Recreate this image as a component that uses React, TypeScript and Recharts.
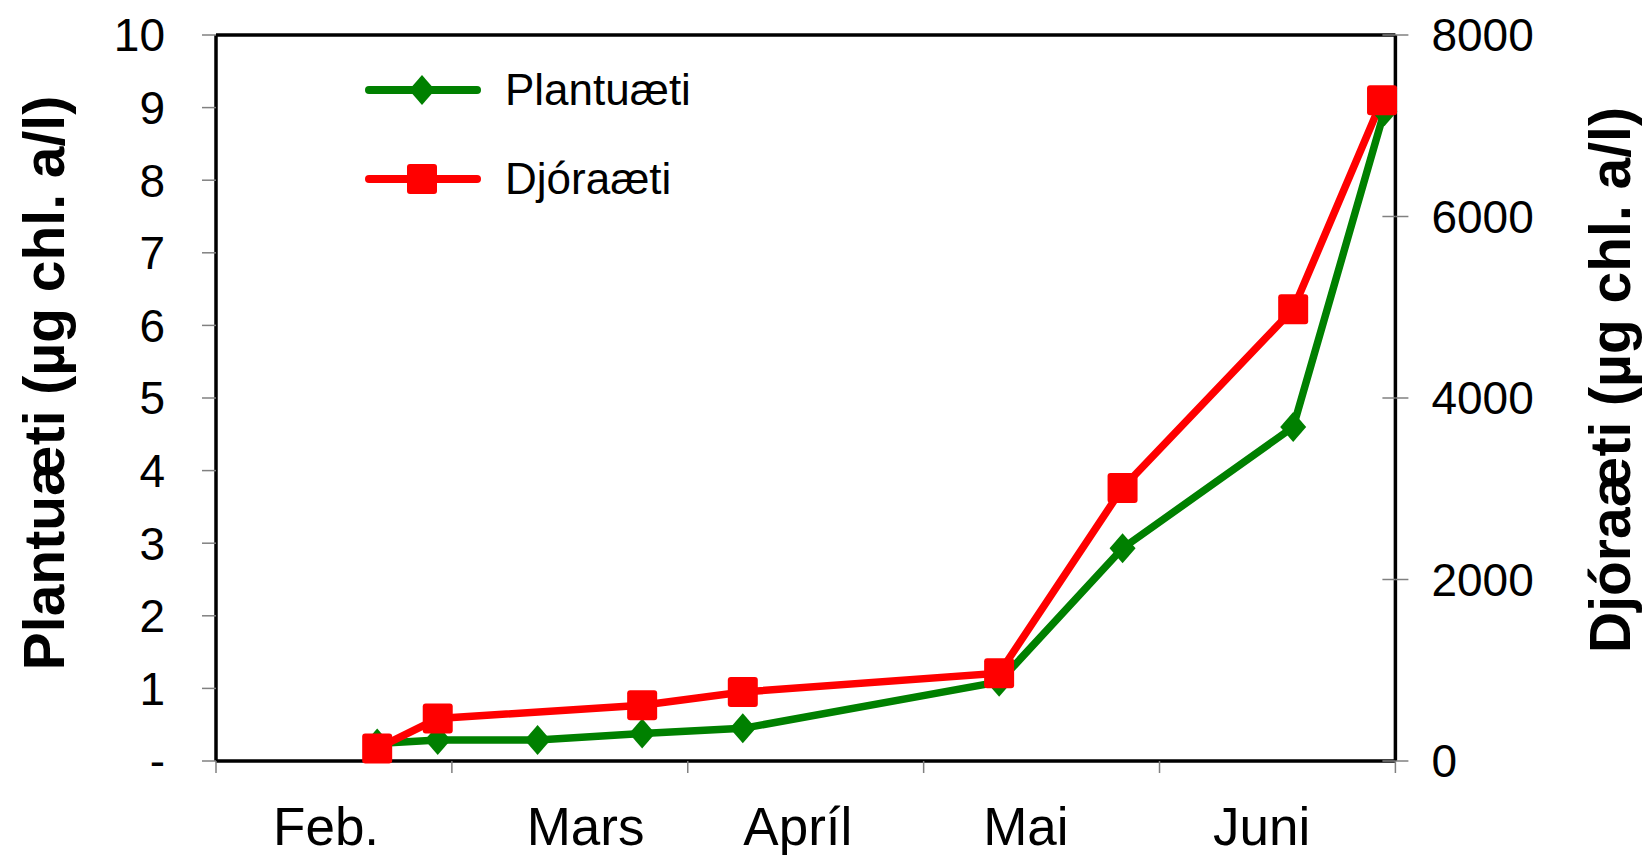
import { LineChart, Line, XAxis, YAxis, ReferenceLine } from "recharts";

// days counted from the start of February (one month = 30 units on the axis)
const plantDays = [20.5, 28.2, 40.9, 54.2, 67.0, 99.6, 115.3, 137.0, 148.6];
const plantValues = [0.24, 0.29, 0.29, 0.38, 0.45, 1.09, 2.93, 4.6, 8.95];

const animalDays = [20.5, 28.2, 54.2, 67.0, 99.6, 115.3, 137.0, 148.3];
const animalValues = [138, 468, 615, 761, 967, 3009, 4978, 7281];

const monthTicks = [0, 30, 60, 90, 120, 150];
const monthLabelTicks = [14, 47, 74, 103, 133];
const monthLabels = ["Feb.", "Mars", "Apríl", "Mai", "Juni"];

const leftTicks = [0, 1, 2, 3, 4, 5, 6, 7, 8, 9, 10];
const rightTicks = [0, 2000, 4000, 6000, 8000];

const plantData = plantDays.map((d, i) => ({ day: d, plant: plantValues[i] }));
const animalData = animalDays.map((d, i) => ({ day: d, animal: animalValues[i] }));

const FONT = "'Liberation Sans', Arial, sans-serif";
const GREEN = "#008000";
const RED = "#ff0000";

function Diamond({ cx, cy, fill }: any) {
  if (cx == null || cy == null) return null;
  return <polygon points={`${cx},${cy - 15} ${cx + 13},${cy} ${cx},${cy + 15} ${cx - 13},${cy}`} fill={fill} />;
}

function Square({ cx, cy, fill }: any) {
  if (cx == null || cy == null) return null;
  return <rect x={cx - 15} y={cy - 15} width={30} height={30} rx={3} fill={fill} />;
}

function MonthTick({ x, y, payload }: any) {
  const v = payload.value;
  const li = monthLabelTicks.indexOf(v);
  if (li >= 0) {
    return (
      <text x={x} y={y + 72} textAnchor="middle" fontFamily={FONT} fontSize={53} fill="#000">
        {monthLabels[li]}
      </text>
    );
  }
  return <line x1={x} x2={x} y1={y - 12} y2={y} stroke="#808080" strokeWidth={1.5} />;
}

function RightTick({ x, y, payload }: any) {
  const ax = x - 36;
  return (
    <g>
      <line x1={ax - 13} x2={ax} y1={y} y2={y} stroke="#808080" strokeWidth={1.5} />
      <text x={x} y={y} dy="0.355em" textAnchor="start" fontFamily={FONT} fontSize={46} fill="#000">
        {payload.value}
      </text>
    </g>
  );
}

function LegendBox() {
  const rows = [
    { name: "Plantuæti", color: GREEN, marker: "diamond" },
    { name: "Djóraæti", color: RED, marker: "square" },
  ];
  return (
    <div style={{ fontFamily: FONT, position: "absolute", left: 365, top: 46 }}>
      {rows.map((r) => (
        <div key={r.name} style={{ display: "flex", alignItems: "center", height: 88.5 }}>
          <svg width={116} height={40}>
            <line x1={4} x2={112} y1={20} y2={20} stroke={r.color} strokeWidth={8} strokeLinecap="round" />
            {r.marker === "diamond" ? <Diamond cx={57} cy={20} fill={r.color} /> : <Square cx={57} cy={20} fill={r.color} />}
          </svg>
          <span style={{ fontSize: 44, marginLeft: 24, color: "#000", lineHeight: 1 }}>{r.name}</span>
        </div>
      ))}
    </div>
  );
}

export default function App() {
  return (
    <div style={{ width: 1650, height: 855, position: "relative", background: "#fff" }}>
      <style>{"body{margin:0}"}</style>
      <LineChart width={1650} height={855} margin={{ top: 35, right: 0, bottom: 0, left: 0 }}>
        <XAxis
          dataKey="day"
          type="number"
          domain={[0, 150]}
          ticks={[...monthTicks, ...monthLabelTicks].sort((a, b) => a - b)}
          interval={0}
          height={94}
          tickSize={12}
          tickMargin={0}
          tickLine={false}
          axisLine={{ stroke: "#000", strokeWidth: 3.5 }}
          tick={<MonthTick />}
          allowDuplicatedCategory={false}
        />
        <YAxis
          yAxisId="left"
          orientation="left"
          domain={[0, 10]}
          ticks={leftTicks}
          interval={0}
          width={216}
          tickSize={14}
          tickMargin={37}
          tickLine={{ stroke: "#808080", strokeWidth: 1.5 }}
          axisLine={{ stroke: "#000", strokeWidth: 3.5 }}
          tickFormatter={(v: number) => (v === 0 ? "-" : String(v))}
          tick={{ fontFamily: FONT, fontSize: 46, fill: "#000" }}
          label={{
            value: "Plantuæti (µg chl. a/l)",
            angle: -90,
            position: "center",
            dx: -64,
            dy: -15,
            style: { fontFamily: FONT, fontSize: 57, fontWeight: "bold", fill: "#000", textAnchor: "middle" },
          }}
        />
        <YAxis
          yAxisId="right"
          orientation="right"
          domain={[0, 8000]}
          ticks={rightTicks}
          interval={0}
          width={254.6}
          tickSize={13}
          tickMargin={23}
          tickLine={{ stroke: "#808080", strokeWidth: 1.5 }}
          axisLine={{ stroke: "#000", strokeWidth: 3.5 }}
          tick={<RightTick />}
          label={{
            value: "Djóraæti (µg chl. a/l)",
            angle: -90,
            position: "center",
            dx: 87,
            dy: -18,
            style: { fontFamily: FONT, fontSize: 57, fontWeight: "bold", fill: "#000", textAnchor: "middle" },
          }}
        />
        <ReferenceLine yAxisId="left" y={10} stroke="#000" strokeWidth={3.5} />
        <Line
          yAxisId="left"
          data={plantData}
          dataKey="plant"
          type="linear"
          stroke={GREEN}
          strokeWidth={7.5}
          dot={<Diamond fill={GREEN} />}
          activeDot={false}
          isAnimationActive={false}
        />
        <Line
          yAxisId="right"
          data={animalData}
          dataKey="animal"
          type="linear"
          stroke={RED}
          strokeWidth={7.5}
          dot={<Square fill={RED} />}
          activeDot={false}
          isAnimationActive={false}
        />
      </LineChart>
      <LegendBox />
    </div>
  );
}
